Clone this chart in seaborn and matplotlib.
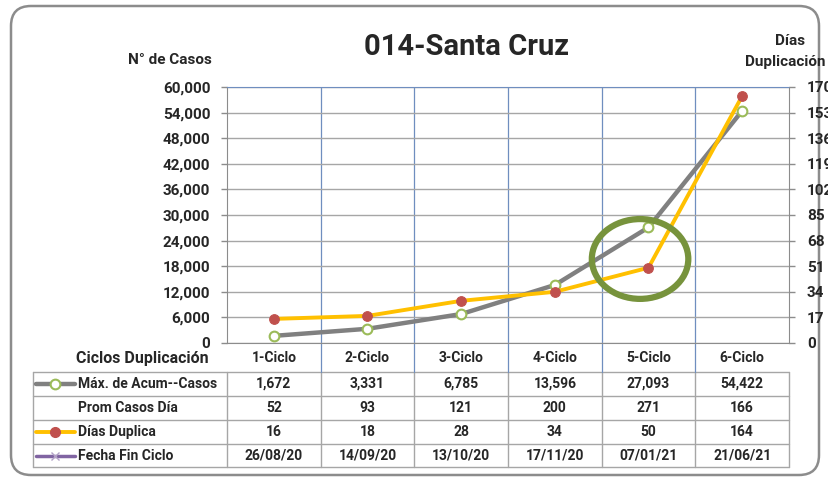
import matplotlib.pyplot as plt
import numpy as np
import seaborn as sns
from matplotlib.patches import Ellipse, FancyBboxPatch
from matplotlib.lines import Line2D
from matplotlib.ticker import FuncFormatter

# data
ciclos = ['1-Ciclo', '2-Ciclo', '3-Ciclo', '4-Ciclo', '5-Ciclo', '6-Ciclo']
max_casos = [1672, 3331, 6785, 13596, 27093, 54422]
prom_casos = [52, 93, 121, 200, 271, 166]
dias_duplica = [16, 18, 28, 34, 50, 164]
fecha_fin = ['26/08/20', '14/09/20', '13/10/20', '17/11/20', '07/01/21', '21/06/21']
left_ticks = np.arange(0, 60001, 6000)
right_ticks = np.arange(0, 171, 17)

sns.set_style('white')
plt.rcParams['font.family'] = ['Roboto', 'DejaVu Sans']
plt.rcParams['font.weight'] = 'bold'

W, H = 829, 482
fig = plt.figure(figsize=(W / 100, H / 100), dpi=100)


def px(x0, y0, x1, y1):
  # pixel box -> figure fraction
  return [x0 / W, 1 - y1 / H, (x1 - x0) / W, (y1 - y0) / H]


# background layer in pixel coords (frame, table, labels)
bg = fig.add_axes([0, 0, 1, 1], zorder=-1)
bg.set_xlim(0, W)
bg.set_ylim(H, 0)
bg.axis('off')
bg.add_patch(FancyBboxPatch((11, 6), 808, 469, boxstyle='round,pad=0,rounding_size=20',
                            ec='#8c8c8c', fc='white', lw=1.8))

# main chart
x0, x1, y_top, y_bot = 227, 789, 87, 343
ax = fig.add_axes(px(x0, y_top, x1, y_bot))
ax.patch.set_visible(False)
pos = np.arange(len(ciclos))

sns.lineplot(x=pos, y=max_casos, ax=ax, color='#808080', lw=3.2, marker='o', markersize=7,
             markerfacecolor='white', markeredgecolor='#9BBB59', markeredgewidth=1.5)
ax.set_xlim(-0.5, len(ciclos) - 0.5)
ax.set_ylim(0, 60000)
ax.set_yticks(left_ticks)
ax.yaxis.set_major_formatter(FuncFormatter(lambda v, p: f'{int(v):,}'))
ax.set_xticks(pos[:-1] + 0.5)
ax.set_xticklabels([])
ax.tick_params(axis='x', length=0)
ax.tick_params(axis='y', direction='out', length=4, width=1, color='#8c8c8c', pad=8,
               labelsize=11)
ax.grid(axis='y', color='#a6a6a6', lw=1)
ax.grid(axis='x', color='#6f8ebf', lw=0.9)
ax.set_axisbelow(True)
for s in ['left', 'bottom', 'right']:
  ax.spines[s].set_color('#8c8c8c')
ax.spines['top'].set_color('#6f8ebf')

ax2 = ax.twinx()
sns.lineplot(x=pos, y=dias_duplica, ax=ax2, color='#FFC000', lw=2.8, marker='o', markersize=7,
             markerfacecolor='#C0504D', markeredgecolor='#C0504D')
ax2.set_ylim(0, 170)
ax2.set_yticks(right_ticks)
ax2.tick_params(axis='y', direction='out', length=4, width=1, color='#8c8c8c', pad=9,
                labelsize=11)
for s in ax2.spines.values():
  s.set_visible(False)
ax2.add_patch(Ellipse((3.91, 55.8), 1.03, 53, fill=False, ec='#77933C', lw=4.5, zorder=5))

# titles
bg.text(467, 47, '014-Santa Cruz', fontsize=21, ha='center', va='center')
bg.text(170, 60, 'N° de Casos', fontsize=11, ha='center', va='center')
bg.text(790, 41, 'Días', fontsize=11, ha='center', va='center')
bg.text(745, 62, 'Duplicación', fontsize=11, ha='left', va='center')

# data table
edges = np.linspace(x0, x1, len(ciclos) + 1)
centers = (edges[:-1] + edges[1:]) / 2
rows_y = [372, 396, 420, 444, 467]
tab_left = 33
grid_c = '#a6a6a6'
for y in rows_y:
  bg.plot([tab_left, x1], [y, y], color=grid_c, lw=1)
for x in [tab_left] + list(edges):
  bg.plot([x, x], [rows_y[0], rows_y[-1]], color=grid_c, lw=1)
for x in edges[1:-1]:
  bg.plot([x, x], [y_bot, rows_y[0]], color='#6f8ebf', lw=0.9)

bg.text(209, 359, 'Ciclos Duplicación', fontsize=11.5, ha='right', va='center')
for c, lab in zip(centers, ciclos):
  bg.text(c, 358, lab, fontsize=10, ha='center', va='center')

row_labels = ['Máx. de Acum--Casos', 'Prom Casos Día', 'Días Duplica', 'Fecha Fin Ciclo']
row_vals = [[f'{v:,}' for v in max_casos], [str(v) for v in prom_casos],
            [str(v) for v in dias_duplica], fecha_fin]
mid_y = [(a + b) / 2 for a, b in zip(rows_y[:-1], rows_y[1:])]
for y, lab, vals in zip(mid_y, row_labels, row_vals):
  bg.text(78, y, lab, fontsize=10, ha='left', va='center')
  for c, v in zip(centers, vals):
    bg.text(c, y, v, fontsize=10, ha='center', va='center')

# legend keys inside the table
bg.add_line(Line2D([36, 75], [mid_y[0]] * 2, color='#808080', lw=3.2))
bg.add_line(Line2D([55], [mid_y[0]], marker='o', markersize=7, markerfacecolor='white',
                   markeredgecolor='#9BBB59', markeredgewidth=1.5, lw=0))
bg.add_line(Line2D([36, 75], [mid_y[2]] * 2, color='#FFC000', lw=2.8))
bg.add_line(Line2D([55], [mid_y[2]], marker='o', markersize=7, color='#C0504D', lw=0))
bg.add_line(Line2D([36, 75], [mid_y[3]] * 2, color='#8064A2', lw=2.5))
bg.add_line(Line2D([55], [mid_y[3]], marker='x', markersize=6, color='#b3a2c7', lw=0,
                   markeredgewidth=1))

fig.savefig('out.png', dpi=100)
